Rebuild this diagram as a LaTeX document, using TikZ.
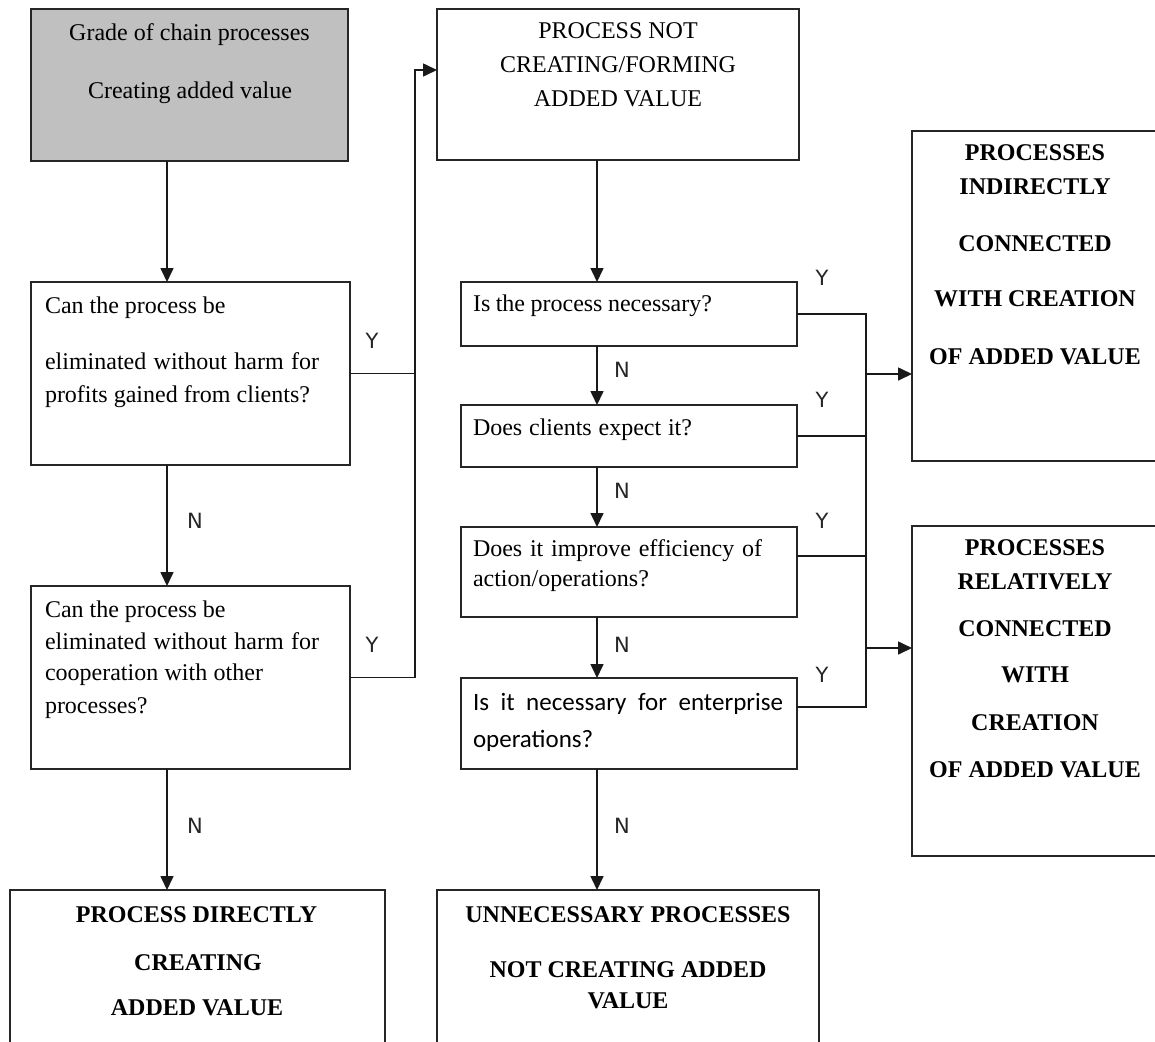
\documentclass[tikz,border=0pt]{standalone}
\usepackage{fontspec}
\setmainfont{Liberation Serif}
\newfontfamily\calfont{Carlito}
\newfontfamily\lblfont{DejaVu Sans}
\usetikzlibrary{arrows.meta}
\definecolor{boxgray}{HTML}{C0C0C0}
\begin{document}
\begin{tikzpicture}[x=1pt,y=-1pt,
  box/.style={draw=black!85, line width=1.7pt, inner sep=0pt, outer sep=0pt},
  txt/.style={inner sep=0pt, outer sep=0pt, anchor=base, font=\fontsize{24}{28}\selectfont},
  ltxt/.style={txt, anchor=base west},
  btxt/.style={inner sep=0pt, outer sep=0pt, anchor=base, font=\fontsize{24}{28}\selectfont\bfseries},
  lbl/.style={inner sep=0pt, outer sep=0pt, font=\lblfont\fontsize{21}{24}\selectfont, text=black!85},
  con/.style={line width=1.6pt, draw=black!90},
  arr/.style={con, -{Triangle[length=14pt,width=13pt]}}]
\useasboundingbox (0,0) rectangle (1155,1041);
\clip (0,0) rectangle (1155,1041);

% boxes
\node[box, fill=boxgray, minimum width=317pt, minimum height=152pt] (A) at (189.5,85) {};
\node[box, minimum width=319pt, minimum height=183pt] (B) at (190.5,373.5) {};
\node[box, minimum width=319pt, minimum height=183pt] (C) at (190.5,677.5) {};
\node[box, minimum width=375pt, minimum height=170pt] (D) at (197.5,975) {};
\node[box, minimum width=362pt, minimum height=151pt] (E) at (618,84.5) {};
\node[box, minimum width=336pt, minimum height=64pt] (F) at (629,314) {};
\node[box, minimum width=336pt, minimum height=62pt] (G) at (629,436) {};
\node[box, minimum width=336pt, minimum height=90pt] (H) at (629,572) {};
\node[box, minimum width=336pt, minimum height=91pt] (I) at (629,723.5) {};
\node[box, minimum width=382pt, minimum height=170pt] (J) at (628,975) {};
\node[box, minimum width=248pt, minimum height=330pt] (K) at (1036,296) {};
\node[box, minimum width=248pt, minimum height=330pt] (L) at (1036,691) {};

% texts
\node[txt] (a1) at (189.5,40.7) {Grade of chain processes};
\node[txt] (a2) at (190,98.3) {Creating added value};

\node[ltxt] (b1) at (45,313.3) {Can the process be};
\node[ltxt] (b2) at (45,369.3) {\makebox[274pt][s]{eliminated without harm for}};
\node[ltxt] (b3) at (45,402.7) {\makebox[265pt][s]{profits gained from clients?}};

\node[ltxt] (c1) at (45,617.3) {Can the process be};
\node[ltxt] (c2) at (45,649.3) {\makebox[274pt][s]{eliminated without harm for}};
\node[ltxt] (c3) at (45,680.7) {\makebox[218pt][s]{cooperation with other}};
\node[ltxt] (c4) at (45,713.3) {processes?};

\node[txt] (e1) at (618,38.3) {PROCESS NOT};
\node[txt] (e2) at (618,72.7) {CREATING/FORMING};
\node[txt] (e3) at (618,106) {ADDED VALUE};

\node[ltxt] (f1) at (473,311.7) {\makebox[239pt][s]{Is the process necessary?}};
\node[ltxt] (g1) at (473,435) {\makebox[219pt][s]{Does clients expect it?}};
\node[ltxt] (h1) at (473,556) {\makebox[289pt][s]{Does it improve efficiency of}};
\node[ltxt] (h2) at (473,586.7) {action/operations?};
\node[ltxt, font=\calfont\fontsize{25}{29}\selectfont] (i1) at (473,710.7) {\makebox[310pt][s]{Is it necessary for enterprise}};
\node[ltxt, font=\calfont\fontsize{25}{29}\selectfont] (i2) at (473,747.3) {operations?};

\node[btxt] (k1) at (1035,160) {PROCESSES};
\node[btxt] (k2) at (1035,194) {INDIRECTLY};
\node[btxt] (k3) at (1035,251) {CONNECTED};
\node[btxt] (k4) at (1035,306.7) {WITH CREATION};
\node[btxt] (k5) at (1035,364.3) {OF ADDED VALUE};

\node[btxt] (l1) at (1035,555) {PROCESSES};
\node[btxt] (l2) at (1035,589.3) {RELATIVELY};
\node[btxt] (l3) at (1035,636.7) {CONNECTED};
\node[btxt] (l4) at (1035,682.7) {WITH};
\node[btxt] (l5) at (1035,730) {CREATION};
\node[btxt] (l6) at (1035,777.7) {OF ADDED VALUE};

\node[btxt] (d1) at (196.5,922.3) {PROCESS DIRECTLY};
\node[btxt] (d2) at (198,970) {CREATING};
\node[btxt] (d3) at (197,1015) {ADDED VALUE};

\node[btxt] (j1) at (628,922.3) {UNNECESSARY PROCESSES};
\node[btxt] (j2) at (628,977.3) {NOT CREATING ADDED};
\node[btxt] (j3) at (628,1008.3) {VALUE};

% helper coordinates
\coordinate (colL) at (167,0);
\coordinate (colM) at (597,0);
\coordinate (busL) at (415,0);
\coordinate (busR) at (866,0);
\coordinate (yE) at (0,70);
\coordinate (yH) at (0,556);
\coordinate (yI) at (0,707);
\coordinate (yK) at (0,374);
\coordinate (yL) at (0,648);

% vertical flow
\draw[arr] (A.south -| colL) -- (B.north -| colL);
\draw[arr] (B.south -| colL) -- (C.north -| colL);
\draw[arr] (C.south -| colL) -- (D.north -| colL);
\draw[arr] (E.south -| colM) -- (F.north -| colM);
\draw[arr] (F.south -| colM) -- (G.north -| colM);
\draw[arr] (G.south -| colM) -- (H.north -| colM);
\draw[arr] (H.south -| colM) -- (I.north -| colM);
\draw[arr] (I.south -| colM) -- (J.north -| colM);

% left Y bus
\draw[con] (B.east) -- (B.east -| busL);
\draw[arr] (C.east) -- (C.east -| busL) -- (busL |- yE) -- (E.west |- yE);

% right Y bus
\draw[con] (F.east) -- (F.east -| busR) -- (busR |- yI) -- (I.east |- yI);
\draw[con] (G.east) -- (G.east -| busR);
\draw[con] (H.east |- yH) -- (busR |- yH);
\draw[arr] (busR |- yK) -- (K.west |- yK);
\draw[arr] (busR |- yL) -- (L.west |- yL);

% labels
\node[lbl] (y1) at (372,341) {Y};
\node[lbl] (y2) at (372,645) {Y};
\node[lbl] (y3) at (822,278) {Y};
\node[lbl] (y4) at (822,400) {Y};
\node[lbl] (y5) at (822,521) {Y};
\node[lbl] (y6) at (822,675) {Y};
\node[lbl] (n1) at (195,521) {N};
\node[lbl] (n2) at (195,826) {N};
\node[lbl] (n3) at (622,370) {N};
\node[lbl] (n4) at (622,491) {N};
\node[lbl] (n5) at (622,645) {N};
\node[lbl] (n6) at (622,826) {N};
\end{tikzpicture}
\end{document}
